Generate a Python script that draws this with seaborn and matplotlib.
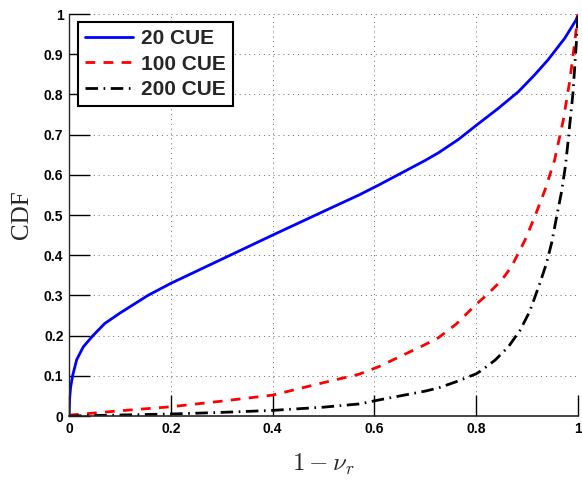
#Load the libraries
import matplotlib
matplotlib.use("Agg")
import matplotlib.pyplot as plt
import seaborn as sns

#Values
x_20 = [0, 0.001, 0.003, 0.007, 0.015, 0.028, 0.047, 0.07, 0.1, 0.125, 0.155, 0.2, 0.3, 0.4, 0.5, 0.57, 0.609,
        0.7, 0.726, 0.765, 0.801, 0.843, 0.883, 0.915, 0.941, 0.974, 0.996, 1.0]
y_20 = [0, 0.04, 0.07, 0.1, 0.14, 0.172, 0.2, 0.23, 0.256, 0.276, 0.3, 0.33, 0.39, 0.45, 0.509, 0.55, 0.575,
        0.636, 0.655, 0.688, 0.724, 0.765, 0.807, 0.849, 0.886, 0.94, 0.985, 0.998]

x_100 = [0, 0.1, 0.2, 0.3, 0.4, 0.5, 0.57, 0.609, 0.7, 0.726, 0.76, 0.8, 0.824, 0.85, 0.869, 0.896, 0.915,
         0.935, 0.954, 0.971, 0.984, 0.994, 1.0]
y_100 = [0.002, 0.013, 0.023, 0.037, 0.052, 0.083, 0.104, 0.123, 0.178, 0.195, 0.228, 0.278, 0.305, 0.338,
         0.371, 0.438, 0.496, 0.562, 0.637, 0.736, 0.836, 0.935, 1.0]

x_200 = [0, 0.2, 0.3, 0.4, 0.5, 0.57, 0.609, 0.7, 0.726, 0.76, 0.8, 0.811, 0.837, 0.863, 0.886, 0.905, 0.925,
         0.938, 0.948, 0.958, 0.967, 0.975, 0.98, 0.99, 0.997, 1.0]
y_200 = [0, 0.005, 0.009, 0.014, 0.022, 0.03, 0.04, 0.062, 0.07, 0.085, 0.105, 0.114, 0.139, 0.172, 0.213,
         0.26, 0.33, 0.38, 0.43, 0.496, 0.554, 0.62, 0.678, 0.803, 0.935, 1.0]

labels = ["20 CUE", "100 CUE", "200 CUE"]
x_ticks = [0, 0.2, 0.4, 0.6, 0.8, 1]
y_ticks = [0, 0.1, 0.2, 0.3, 0.4, 0.5, 0.6, 0.7, 0.8, 0.9, 1]

sns.set_style("ticks")
plt.rcParams["font.family"] = ["Liberation Sans", "DejaVu Sans"]
plt.rcParams["mathtext.fontset"] = "cm"

fig = plt.figure(figsize=(5.82, 4.8), dpi=100)
ax = fig.add_axes([0.1186, 0.1333, 0.8746, 0.8375])

#Draw the three CDF curves
sns.lineplot(x=x_20, y=y_20, color="#0000ff", lw=2, label=labels[0], ax=ax, sort=False, estimator=None)
sns.lineplot(x=x_100, y=y_100, color="#ff0000", lw=2, label=labels[1], ax=ax, sort=False, estimator=None)
sns.lineplot(x=x_200, y=y_200, color="black", lw=2, label=labels[2], ax=ax, sort=False, estimator=None)
ax.lines[1].set_dashes((3.5, 3))
ax.lines[2].set_dashes((4.5, 2, 0.6, 2))

ax.set_xlim(0, 1)
ax.set_ylim(0, 1)
ax.set_xticks(x_ticks)
ax.set_xticklabels(["0", "0.2", "0.4", "0.6", "0.8", "1"])
ax.set_yticks(y_ticks)
ax.set_yticklabels(["0", "0.1", "0.2", "0.3", "0.4", "0.5", "0.6", "0.7", "0.8", "0.9", "1"])
ax.tick_params(direction="in", length=15, width=1, labelsize=10, colors="black", pad=4)
for lab in ax.get_xticklabels() + ax.get_yticklabels():
    lab.set_fontweight("bold")

ax.grid(True, linestyle=(0, (1, 4)), color="0.4", lw=0.7)
sns.despine(ax=ax)
ax.spines["left"].set_linewidth(1)
ax.spines["bottom"].set_linewidth(1.2)

ax.set_xlabel(r"$1-\nu_r$", fontsize=18, labelpad=12)
ax.set_ylabel("CDF", fontsize=18, family="Liberation Serif", labelpad=8)

leg = ax.legend(loc="upper left", bbox_to_anchor=(0.018, 0.98), borderaxespad=0,
                prop={"weight": "bold", "size": 15}, frameon=True, fancybox=False,
                edgecolor="black", framealpha=1, handlelength=2.3, handletextpad=0.35,
                labelspacing=0.3, borderpad=0.35)
leg.get_frame().set_linewidth(1.5)

plt.savefig("out.png", dpi=100)
